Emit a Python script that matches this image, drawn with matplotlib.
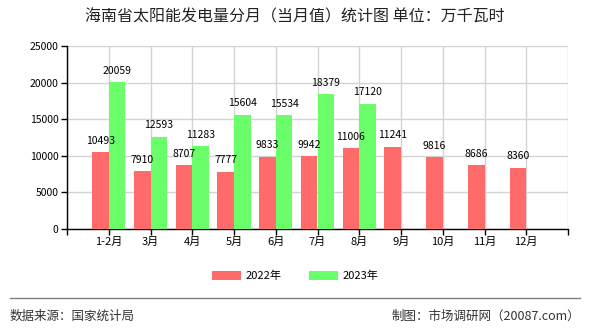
import matplotlib
matplotlib.use("Agg")
import matplotlib.pyplot as plt
from matplotlib.patches import Patch
from matplotlib.lines import Line2D
import numpy as np

plt.rcParams['font.family'] = ['Noto Sans CJK SC', 'DejaVu Sans']

months = ["1-2月", "3月", "4月", "5月", "6月", "7月", "8月", "9月", "10月", "11月", "12月"]
values_2022 = [10493, 7910, 8707, 7777, 9833, 9942, 11006, 11241, 9816, 8686, 8360]
values_2023 = [20059, 12593, 11283, 15604, 15534, 18379, 17120]
yticks = [0, 5000, 10000, 15000, 20000, 25000]

red = "#ff6a6a"
green = "#6aff6a"

fig = plt.figure(figsize=(5.9, 3.3), dpi=100)
ax = fig.add_axes([67 / 590, 1 - 229 / 330, 501 / 590, 183 / 330])

x = np.arange(len(months))
w = 0.4
ax.bar(x[:len(values_2022)] - w / 2, values_2022, width=w, color=red, zorder=3)
ax.bar(x[:len(values_2023)] + w / 2, values_2023, width=w, color=green, zorder=3)

for xi, v in zip(x, values_2022):
    ax.text(xi - w / 2, v + 900, str(v), ha="center", va="bottom", fontsize=7.5, zorder=4)
for xi, v in zip(x, values_2023):
    ax.text(xi + w / 2, v + 900, str(v), ha="center", va="bottom", fontsize=7.5, zorder=4)

ax.set_xlim(-1, len(months))
ax.set_ylim(0, 25000)
ax.set_yticks(yticks)
ax.set_yticklabels([str(t) for t in yticks], fontsize=7.5)
ax.set_xticks(np.arange(-1, len(months) + 1))
ax.set_xticklabels([""] + months + [""], fontsize=8)
ax.tick_params(axis="both", length=4, width=1, color="black", pad=2)
ax.grid(True, color="#d3d3d3", linewidth=1, zorder=0)
for s in ["top", "right"]:
    ax.spines[s].set_visible(False)
for s in ["left", "bottom"]:
    ax.spines[s].set_color("black")
    ax.spines[s].set_linewidth(1)

fig.text(0.5, 1 - 17 / 330, "海南省太阳能发电量分月（当月值）统计图 单位：万千瓦时",
         ha="center", va="center", fontsize=11.5, color="#222222")

handles = [Patch(facecolor=red, label="2022年"), Patch(facecolor=green, label="2023年")]
fig.legend(handles=handles, loc="center", bbox_to_anchor=(0.5, 1 - 276 / 330), ncol=2,
           frameon=False, fontsize=8, handlelength=2.6, handleheight=0.9,
           columnspacing=2.5, handletextpad=0.4)

fig.add_artist(Line2D([10 / 590, 580 / 590], [1 - 298 / 330, 1 - 298 / 330],
                      color="#808080", linewidth=1))
fig.text(10 / 590, 1 - 316 / 330, "数据来源：国家统计局", ha="left", va="center",
         fontsize=9, color="#333333")
fig.text(580 / 590, 1 - 316 / 330, "制图：市场调研网（20087.com）", ha="right", va="center",
         fontsize=9, color="#333333")

fig.savefig("out.png", dpi=100)
